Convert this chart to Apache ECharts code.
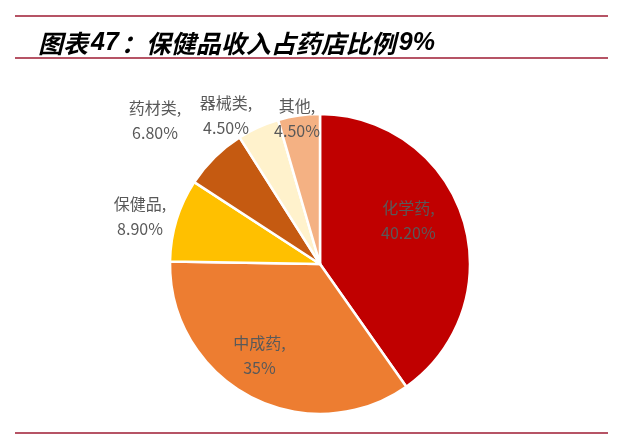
<!DOCTYPE html>
<html>
<head>
<meta charset="utf-8">
<script src="https://cdn.jsdelivr.net/npm/echarts@6/dist/echarts.min.js"></script>
<style>
  html, body { margin: 0; padding: 0; background: #fff; }
  #chart { width: 640px; height: 441px; }
</style>
</head>
<body>
<div id="chart"></div>
<script>
// 药店收入结构
var categories = ['化学药', '中成药', '保健品', '药材类', '器械类', '其他']
var shares = [40.2, 35, 8.9, 6.8, 4.5, 4.5]
var shareLabels = ['40.20%', '35%', '8.90%', '6.80%', '4.50%', '4.50%']
var colors = ['#C00000', '#ED7D31', '#FFC000', '#C55A11', '#FFF2CC', '#F4B183']

// label placement: inside ones are nudged, outside ones get a fixed spot
var labelSpot = [
  { dx: 14, dy: -20 },
  { dx: -24, dy: 23 },
  { x: 140, y: 216 },
  { x: 155, y: 120 },
  { x: 226, y: 115 },
  { x: 297, y: 118 }
]

var chart = echarts.init(document.getElementById('chart'))

var pieData = categories.map(function (name, i) {
  return {
    name: name,
    value: shares[i],
    itemStyle: { color: colors[i] }
  }
})

chart.setOption({
  animation: false,
  title: {
    text: '图表{n|47}：保健品收入占药店比例{n|9%}',
    left: 33,
    top: 26,
    textStyle: {
      fontFamily: 'Noto Sans CJK SC',
      fontSize: 25,
      fontWeight: 'bold',
      fontStyle: 'italic',
      color: '#000',
      rich: {
        n: {
          fontFamily: 'Liberation Sans',
          fontSize: 25,
          fontWeight: 'bold',
          fontStyle: 'italic',
          color: '#000',
          padding: [0, 2, 0, 3]
        }
      }
    }
  },
  graphic: [
    { type: 'line', shape: { x1: 15, y1: 16, x2: 608, y2: 16 }, style: { stroke: '#9E1B32', lineWidth: 1.5 } },
    { type: 'line', shape: { x1: 15, y1: 58, x2: 608, y2: 58 }, style: { stroke: '#9E1B32', lineWidth: 1.5 } },
    { type: 'line', shape: { x1: 15, y1: 433, x2: 608, y2: 433 }, style: { stroke: '#9E1B32', lineWidth: 1.5 } }
  ],
  series: [{
    type: 'pie',
    center: [320, 264],
    radius: [0, 150],
    startAngle: 90,
    clockwise: true,
    avoidLabelOverlap: false,
    data: pieData,
    itemStyle: { borderColor: '#fff', borderWidth: 2.5 },
    label: {
      show: true,
      position: 'inside',
      formatter: function (p) {
        return p.name + ',\n' + shareLabels[p.dataIndex]
      },
      fontFamily: 'Noto Sans CJK SC',
      fontSize: 16,
      lineHeight: 25,
      color: '#595959',
      align: 'center'
    },
    labelLine: { show: false },
    labelLayout: function (params) {
      var s = labelSpot[params.dataIndex]
      if (s.x !== undefined) {
        return { x: s.x, y: s.y, align: 'center', verticalAlign: 'middle' }
      }
      return { dx: s.dx, dy: s.dy }
    }
  }]
})
</script>
</body>
</html>
